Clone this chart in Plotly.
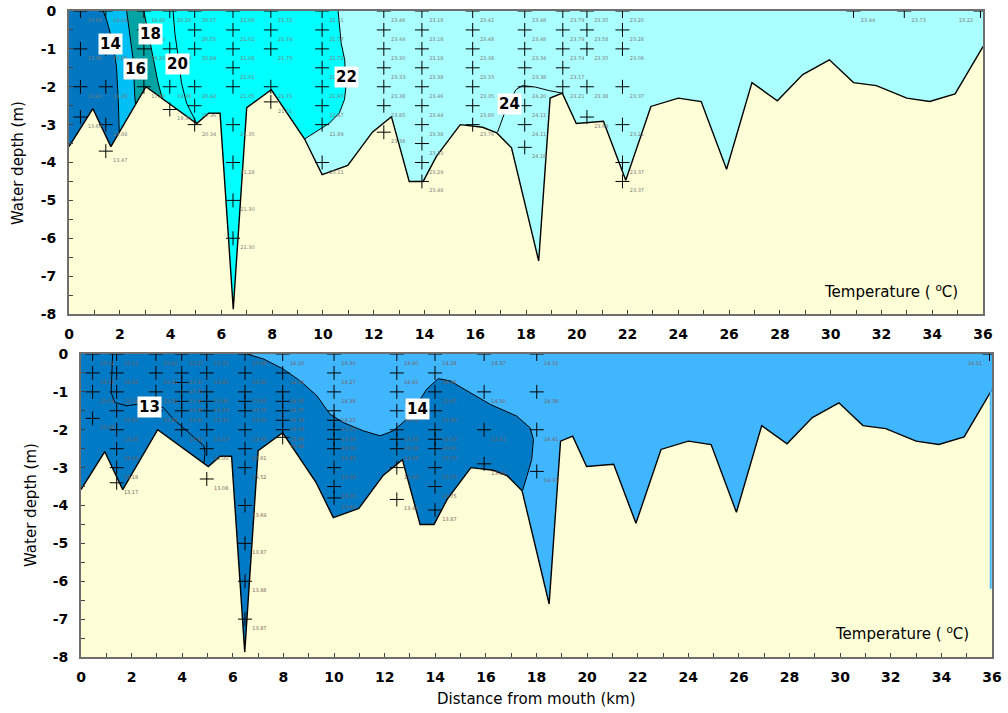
import plotly.graph_objects as go

# ---------------- data ----------------
# river-bed profile (shared by both sections): distance (km), depth (m)
bottom_km = [0, 0.94, 1.65, 3.03, 5.03, 5.5, 5.95, 6.47, 7.0, 7.97, 9.28, 9.97, 10.98,
             11.95, 12.7, 13.4, 13.95, 14.47, 15.41, 16.29, 16.85, 17.43, 18.5, 18.95,
             19.43, 19.98, 21.05, 21.93, 22.92, 24.0, 24.9, 25.9, 26.9, 27.9, 28.9,
             29.95, 30.9, 31.8, 33.0, 33.9, 34.9, 36.0]
bottom_depth = [-3.58, -2.58, -3.58, -2.0, -2.97, -2.7, -2.7, -7.87, -2.55, -2.08, -3.38,
                -4.32, -4.08, -3.2, -2.79, -4.5, -4.5, -3.84, -3.0, -3.07, -3.22, -3.61,
                -6.6, -2.3, -2.17, -2.97, -2.91, -4.47, -2.52, -2.3, -2.39, -4.18, -1.89,
                -2.37, -1.68, -1.29, -1.89, -1.97, -2.3, -2.39, -2.19, -0.94]

# upper section isotherms (km, depth)
iso14_km = [1.35, 1.48, 1.74, 1.87, 1.94, 1.98]
iso14_d = [0, -0.24, -0.85, -1.47, -2.34, -3.2]
iso16_km = [2.27, 2.40, 2.53, 2.59, 2.62]
iso16_d = [0, -0.59, -1.29, -2.25, -2.46]
iso18_km = [2.95, 3.12, 3.32, 3.51, 3.68]
iso18_d = [0, -0.59, -1.29, -1.9, -2.32]
iso20_km = [4.1, 4.17, 4.3, 4.43, 4.63, 5.03]
iso20_d = [0, -0.59, -1.2, -1.9, -2.43, -2.97]
iso22_km = [10.6, 10.72, 10.86, 10.91, 10.85, 10.65, 10.26, 9.74, 9.28]
iso22_d = [0, -0.85, -1.29, -1.99, -2.34, -2.69, -2.96, -3.18, -3.38]
iso24_km = [16.88, 17.2, 17.6, 17.86, 18.38, 18.9, 19.43]
iso24_d = [-3.2, -2.61, -2.08, -1.97, -2.01, -2.1, -2.17]

# lower section isotherms
iso13b_km = [1.25, 1.21, 1.19, 1.34, 1.81, 2.2, 2.7, 3.25, 3.65, 4.18, 4.86, 4.9, 4.86]
iso13b_d = [0, -0.49, -1.02, -1.28, -1.37, -1.33, -1.37, -1.41, -1.72, -2.03, -2.43, -2.61, -2.89]
iso14b_km = [6.55, 7.21, 8.0, 8.66, 9.32, 9.84, 10.37, 11.16, 11.82, 12.34, 12.94, 13.66,
             14.12, 14.58, 15.38, 16.17, 17.22, 17.75, 17.88, 17.81, 17.62, 17.45]
iso14b_d = [0, -0.13, -0.4, -0.71, -1.1, -1.59, -1.81, -2.03, -2.16, -2.03, -1.68, -0.93,
            -0.65, -0.71, -1.02, -1.33, -1.64, -1.95, -2.26, -2.79, -3.23, -3.6]

# contour labels
top_label_text = ["14", "18", "16", "20", "22", "24"]
top_label_km = [1.63, 3.21, 2.6, 4.26, 10.92, 17.36]
top_label_d = [-0.86, -0.6, -1.52, -1.39, -1.73, -2.46]
bot_label_text = ["13", "14"]
bot_label_km = [2.69, 13.28]
bot_label_d = [-1.39, -1.46]

# sampling stations, upper section
top_st_km = [0.45, 1.45, 2.95, 3.97, 4.95, 6.46, 7.95, 9.97, 12.4, 13.9, 15.9, 17.95,
             19.45, 20.4, 21.8, 30.9, 32.9, 35.9]
top_st_depths = [
    [0, -1, -2, -2.8],
    [0, -1, -2, -3, -3.7],
    [0, -0.5, -1, -2],
    [0, -1, -2, -2.6],
    [0, -0.5, -1, -2, -2.5, -3],
    [0, -0.5, -1, -1.5, -2, -3, -4, -5, -6],
    [0, -0.5, -1, -2, -2.4],
    [0, -0.5, -1, -1.5, -2, -2.5, -3, -4],
    [0, -0.5, -1, -1.5, -2, -2.5, -3.2],
    [0, -0.5, -1, -1.5, -2, -2.5, -3, -3.5, -4, -4.5],
    [0, -0.5, -1, -1.5, -2, -2.5, -3],
    [0, -0.5, -1, -1.5, -2, -2.5, -3, -3.6],
    [0, -0.5, -1, -1.5, -2],
    [0, -0.5, -1, -2, -2.8],
    [0, -0.5, -1, -2, -3, -4, -4.5],
    [0], [0], [0],
]
top_st_temps = [
    [13.58, 13.36, 13.43, 13.60],
    [14.24, 13.88, 13.28, 13.88, 13.47],
    [18.40, 18.30, 18.26, 17.80],
    [20.20, 19.58, 19.36, 19.30],
    [20.57, 20.55, 20.89, 20.42, 20.36, 20.34],
    [21.08, 21.01, 21.08, 21.01, 21.05, 21.35, 21.28, 21.30, 21.30],
    [21.72, 21.74, 21.73, 21.71, 21.61],
    [21.71, 21.77, 21.72, 21.80, 21.87, 21.87, 21.89, 23.11],
    [23.46, 23.44, 23.30, 23.33, 23.38, 23.85, 23.38],
    [23.18, 23.18, 23.18, 23.38, 23.46, 23.44, 23.38, 23.33, 23.29, 23.48],
    [23.41, 23.48, 23.38, 23.33, 23.35, 23.80, 23.76],
    [23.48, 23.48, 23.34, 23.38, 24.20, 24.11, 24.11, 24.18],
    [23.79, 23.79, 23.74, 23.17, 23.21],
    [23.35, 23.58, 23.35, 23.38, 23.69],
    [23.20, 23.28, 23.08, 23.37, 23.21, 23.37, 23.37],
    [23.44], [23.73], [23.22],
]

# sampling stations, lower section
bot_st_km = [0.46, 1.41, 2.96, 3.98, 4.97, 6.48, 7.97, 10.0, 12.48, 13.99, 15.93, 18.01, 35.9]
bot_st_depths = [
    [0, -0.5, -1, -1.7],
    [0, -0.5, -1, -1.5, -2, -2.5, -3, -3.4],
    [0, -0.5, -1, -1.5],
    [0, -0.5, -0.75, -1, -1.25, -1.5, -2],
    [0, -0.5, -1, -1.25, -1.5, -2, -2.5, -3.3],
    [0, -0.5, -1, -1.25, -1.5, -2, -2.5, -3, -4, -5, -6, -7],
    [0, -0.5, -1, -1.25, -1.5, -1.75, -2, -2.2],
    [0, -0.5, -1, -1.5, -1.75, -2, -2.25, -2.5, -3, -3.5, -3.8],
    [0, -0.5, -1, -1.5, -2, -2.25, -2.5, -3, -3.84],
    [0, -0.5, -1, -1.5, -2, -2.25, -2.5, -3, -3.5, -4.12],
    [0, -1, -2, -2.9],
    [0, -1, -2, -3.1],
    [0],
]
bot_st_temps = [
    [13.02, 13.03, 13.04, 13.08],
    [13.11, 13.31, 13.14, 13.37, 13.25, 13.19, 13.18, 13.17],
    [13.20, 13.31, 13.32, 13.29],
    [13.27, 13.37, 13.35, 13.40, 13.46, 13.41, 13.42],
    [13.71, 13.80, 13.46, 13.24, 13.31, 13.13, 13.00, 13.08],
    [13.98, 13.80, 13.85, 13.55, 13.60, 13.60, 13.61, 13.52, 13.69, 13.87, 13.88, 13.87],
    [14.10, 14.04, 14.05, 13.75, 13.58, 13.54, 13.49, 13.48],
    [14.30, 14.27, 14.38, 14.22, 13.91, 13.58, 13.38, 13.48, 13.38, 13.35, 13.40],
    [14.40, 14.45, 14.30, 14.02, 13.50, 13.36, 13.45, 13.43, 13.46],
    [14.28, 14.36, 13.97, 13.83, 13.50, 13.60, 13.73, 13.73, 13.75, 13.87],
    [14.37, 14.30, 13.51, 13.88],
    [14.31, 14.38, 14.41, 14.31],
    [14.11],
]

# thin water strip at the upstream end of the lower section
strip_km = [35.95, 35.95]
strip_d = [-0.93, -6.2]

x_tick_vals = [0, 2, 4, 6, 8, 10, 12, 14, 16, 18, 20, 22, 24, 26, 28, 30, 32, 34, 36]
x_tick_text = ["0", "2", "4", "6", "8", "10", "12", "14", "16", "18", "20", "22", "24",
               "26", "28", "30", "32", "34", "36"]
y_tick_vals = [0, -1, -2, -3, -4, -5, -6, -7, -8]
y_tick_text = ["0", "-1", "-2", "-3", "-4", "-5", "-6", "-7", "-8"]

X_RANGE = [0, 36]
Y_RANGE = [-8, 0]

# ---------------- style ----------------
LAND = "#FFFFD7"
C_LT22 = "#AAFFFF"   # > 22
C_18_22 = "#00FFFF"
C_16_18 = "#00A3A3"
C_14_16 = "#00BFF5"
C_LT14 = "#0077C0"
B_GT14 = "#40B6FF"
B_LT14 = "#007AC4"
FONT = "DejaVu Sans"
W, H = 1008, 713

fig = go.Figure()


def region(xs, ds, color, xa, ya):
    """Water region lying between the left edge and an isotherm."""
    x = [X_RANGE[0]] + list(xs) + [xs[-1], X_RANGE[0]]
    y = [Y_RANGE[1]] + list(ds) + [Y_RANGE[0], Y_RANGE[0]]
    fig.add_trace(go.Scatter(x=x, y=y, mode="lines", fill="toself", fillcolor=color,
                             line=dict(width=0, color=color), hoverinfo="skip",
                             showlegend=False, xaxis=xa, yaxis=ya))


def land(xa, ya):
    x = list(bottom_km) + [X_RANGE[1], X_RANGE[0]]
    y = list(bottom_depth) + [Y_RANGE[0], Y_RANGE[0]]
    fig.add_trace(go.Scatter(x=x, y=y, mode="lines", fill="toself", fillcolor=LAND,
                             line=dict(width=0, color=LAND), hoverinfo="skip",
                             showlegend=False, xaxis=xa, yaxis=ya))
    fig.add_trace(go.Scatter(x=bottom_km, y=bottom_depth, mode="lines",
                             line=dict(color="black", width=1.4), hoverinfo="skip",
                             showlegend=False, xaxis=xa, yaxis=ya))


def isoline(xs, ds, xa, ya):
    fig.add_trace(go.Scatter(x=xs, y=ds, mode="lines", line=dict(color="black", width=1),
                             hoverinfo="skip", showlegend=False, xaxis=xa, yaxis=ya))


def stations(kms, depths, temps, xa, ya, tcolor):
    xs, ys, ts, pos = [], [], [], []
    for k, dl, tl in zip(kms, depths, temps):
        for d, t in zip(dl, tl):
            xs.append(k)
            ys.append(d)
            ts.append(f"{t:.2f}")
            # values at the upstream edge are written to the left of the mark
            pos.append("bottom left" if k > X_RANGE[1] - 1 else "bottom right")
    fig.add_trace(go.Scatter(x=xs, y=ys, mode="markers+text", text=ts,
                             textposition=pos,
                             textfont=dict(size=5, color=tcolor, family=FONT),
                             marker=dict(symbol="cross-thin", size=10,
                                         line=dict(color="black", width=1)),
                             hoverinfo="skip", showlegend=False, xaxis=xa, yaxis=ya))


# ---- upper panel ----
region(iso22_km, iso22_d, C_18_22, "x", "y")
region(iso18_km, iso18_d, C_16_18, "x", "y")
region(iso16_km, iso16_d, C_14_16, "x", "y")
region(iso14_km, iso14_d, C_LT14, "x", "y")
land("x", "y")
for xs, ds in [(iso14_km, iso14_d), (iso16_km, iso16_d), (iso18_km, iso18_d),
               (iso20_km, iso20_d), (iso22_km, iso22_d), (iso24_km, iso24_d)]:
    isoline(xs, ds, "x", "y")
stations(top_st_km, top_st_depths, top_st_temps, "x", "y", "#7d7d7d")

# ---- lower panel ----
region(iso14b_km, iso14b_d, B_LT14, "x2", "y2")
land("x2", "y2")
for xs, ds in [(iso13b_km, iso13b_d), (iso14b_km, iso14b_d)]:
    isoline(xs, ds, "x2", "y2")
fig.add_trace(go.Scatter(x=strip_km, y=strip_d, mode="lines",
                         line=dict(color=B_GT14, width=2), hoverinfo="skip",
                         showlegend=False, xaxis="x2", yaxis="y2"))
stations(bot_st_km, bot_st_depths, bot_st_temps, "x2", "y2", "#7a6060")

# background water colours
fig.add_shape(type="rect", xref="x domain", yref="y domain", x0=0, x1=1, y0=0, y1=1,
              fillcolor=C_LT22, line=dict(width=0), layer="below")
fig.add_shape(type="rect", xref="x2 domain", yref="y2 domain", x0=0, x1=1, y0=0, y1=1,
              fillcolor=B_GT14, line=dict(width=0), layer="below")

# contour labels
ann = []
for t, k, d in zip(top_label_text, top_label_km, top_label_d):
    ann.append(dict(x=k, y=d, xref="x", yref="y", text=f"<b>{t}</b>", showarrow=False,
                    bgcolor="white", borderpad=1, font=dict(size=15, color="black", family=FONT)))
for t, k, d in zip(bot_label_text, bot_label_km, bot_label_d):
    ann.append(dict(x=k, y=d, xref="x2", yref="y2", text=f"<b>{t}</b>", showarrow=False,
                    bgcolor="white", borderpad=1, font=dict(size=15, color="black", family=FONT)))
ann.append(dict(x=891 / W, y=1 - 291 / H, xref="paper", yref="paper", xanchor="center",
                yanchor="middle", text="Temperature ( <sup>o</sup>C)", showarrow=False,
                font=dict(size=15, color="black", family=FONT)))
ann.append(dict(x=902 / W, y=1 - 633 / H, xref="paper", yref="paper", xanchor="center",
                yanchor="middle", text="Temperature ( <sup>o</sup>C)", showarrow=False,
                font=dict(size=15, color="black", family=FONT)))
# axis titles
ann.append(dict(x=18 / W, y=1 - 163 / H, xref="paper", yref="paper", xanchor="center",
                yanchor="middle", textangle=-90, text="Water depth (m)", showarrow=False,
                font=dict(size=15, color="black", family=FONT)))
ann.append(dict(x=31 / W, y=1 - 505 / H, xref="paper", yref="paper", xanchor="center",
                yanchor="middle", textangle=-90, text="Water depth (m)", showarrow=False,
                font=dict(size=15, color="black", family=FONT)))
ann.append(dict(x=536 / W, y=1 - 699 / H, xref="paper", yref="paper", xanchor="center",
                yanchor="middle", text="Distance from mouth (km)", showarrow=False,
                font=dict(size=15, color="black", family=FONT)))

axis_common = dict(showline=True, mirror=True, linecolor="#6e6e6e", linewidth=2,
                   showgrid=False, zeroline=False, ticks="inside", ticklen=4,
                   tickcolor="#444", tickwidth=1, automargin=False,
                   tickfont=dict(size=14, color="black", family=FONT, weight="bold"))

xa = dict(axis_common, range=X_RANGE, tickmode="array", tickvals=x_tick_vals,
          ticktext=x_tick_text, ticklabelstandoff=6,
          minor=dict(ticks="inside", dtick=1, tick0=0, ticklen=4, tickcolor="#444"))
ya = dict(axis_common, range=Y_RANGE, tickmode="array", tickvals=y_tick_vals,
          ticktext=y_tick_text, ticklabelstandoff=8,
          minor=dict(ticks="inside", dtick=0.5, tick0=0, ticklen=4, tickcolor="#444"))

fig.update_layout(
    width=W, height=H, margin=dict(l=0, r=0, t=0, b=0, autoexpand=False),
    paper_bgcolor="white", plot_bgcolor="white", showlegend=False,
    xaxis=dict(xa, domain=[69 / W, 983 / W], anchor="y"),
    yaxis=dict(ya, domain=[1 - 314 / H, 1 - 11 / H], anchor="x"),
    xaxis2=dict(xa, domain=[81 / W, 992 / W], anchor="y2"),
    yaxis2=dict(ya, domain=[1 - 657 / H, 1 - 354 / H], anchor="x2"),
    annotations=ann,
)

fig.write_html("out.html", config={"displayModeBar": False},
               post_script="document.body.style.margin='0px';")
